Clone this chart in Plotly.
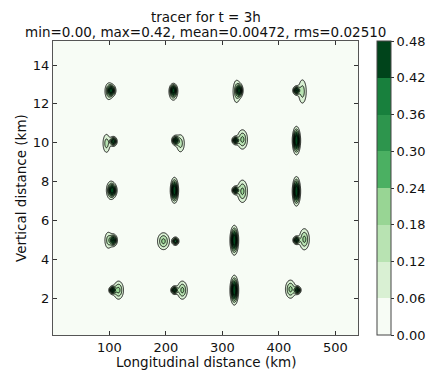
import numpy as np
import plotly.graph_objects as go

# ---- data ----
# dark (concentrated) tracer cores: x (km), y (km), amplitude, sigma_x (km), sigma_y (km)
core_x = [103.5, 213.3, 330.0, 431.0,
          107.0, 216.8, 323.0, 431.0,
          105.3, 215.0, 323.0, 431.0,
          107.0, 216.8, 321.0, 431.0,
          105.3, 215.0, 321.0, 432.8]
core_y = [12.69, 12.72, 12.69, 12.69,
          10.07, 10.12, 10.12, 10.12,
          7.55, 7.55, 7.55, 7.50,
          4.98, 4.93, 4.98, 4.98,
          2.41, 2.41, 2.41, 2.41]
core_a = [0.42, 0.42, 0.42, 0.42,
          0.42, 0.42, 0.42, 0.42,
          0.42, 0.42, 0.42, 0.42,
          0.42, 0.42, 0.42, 0.42,
          0.42, 0.42, 0.42, 0.42]
core_sx = [4.0, 3.6, 3.3, 3.3,
           3.4, 3.4, 3.2, 3.3,
           4.0, 3.3, 3.2, 3.3,
           3.6, 3.2, 3.3, 3.2,
           3.3, 3.3, 3.3, 3.3]
core_sy = [0.16, 0.17, 0.18, 0.12,
           0.13, 0.13, 0.11, 0.30,
           0.18, 0.28, 0.11, 0.32,
           0.16, 0.11, 0.32, 0.11,
           0.11, 0.11, 0.32, 0.11]

# lighter halos around / beside the cores
halo_x = [98.5, 213.0, 325.0, 441.6,
          94.7, 225.7, 335.4, 431.0,
          102.0, 215.0, 335.4, 431.0,
          98.0, 195.6, 321.0, 445.0,
          116.0, 229.0, 321.0, 420.4]
halo_y = [12.64, 12.50, 12.64, 12.64,
          9.97, 9.97, 10.17, 10.10,
          7.55, 7.55, 7.50, 7.50,
          4.98, 4.93, 4.98, 5.03,
          2.41, 2.41, 2.41, 2.46]
halo_a = [0.15, 0.15, 0.15, 0.15,
          0.15, 0.15, 0.20, 0.15,
          0.15, 0.15, 0.20, 0.15,
          0.15, 0.20, 0.15, 0.20,
          0.20, 0.20, 0.15, 0.20]
halo_sx = [4.5, 4.5, 4.5, 5.0,
           4.5, 5.0, 5.8, 4.0,
           5.0, 4.0, 5.8, 4.0,
           4.5, 6.8, 4.5, 5.7,
           5.7, 5.7, 4.5, 5.7]
halo_sy = [0.30, 0.22, 0.42, 0.44,
           0.34, 0.32, 0.32, 0.45,
           0.32, 0.40, 0.37, 0.45,
           0.30, 0.28, 0.46, 0.35,
           0.30, 0.30, 0.46, 0.30]

levels = [0.00, 0.06, 0.12, 0.18, 0.24, 0.30, 0.36, 0.42, 0.48]
band_colors = ['#f7fcf5', '#d9f0d3', '#b8e3b2', '#98d594',
               '#4bb062', '#2d954d', '#18803d', '#00441b']
x_ticks = [100, 200, 300, 400, 500]
y_ticks = [2, 4, 6, 8, 10, 12, 14]
title_1 = "tracer for t = 3h"
title_2 = "min=0.00, max=0.42, mean=0.00472, rms=0.02510"

# ---- build the field from the blobs ----
xg = np.arange(0.0, 540.5, 1.0)
yg = np.arange(0.1, 15.26, 0.03)
X, Y = np.meshgrid(xg, yg)
Z = np.zeros_like(X)
for x0, y0, a, sx, sy in zip(core_x, core_y, core_a, core_sx, core_sy):
    Z += a * np.exp(-0.5 * (((X - x0) / sx) ** 2 + ((Y - y0) / sy) ** 2))
for x0, y0, a, sx, sy in zip(halo_x, halo_y, halo_a, halo_sx, halo_sy):
    Z += a * np.exp(-0.5 * (((X - x0) / sx) ** 2 + ((Y - y0) / sy) ** 2))
Z = np.round(Z, 4)

# stepped colorscale
cs = []
n = len(band_colors)
for i, c in enumerate(band_colors):
    cs.append([i / n, c])
    cs.append([(i + 1) / n, c])

step = levels[1] - levels[0]
fig = go.Figure()
fig.add_trace(go.Contour(
    x=xg, y=yg, z=Z,
    zmin=levels[0], zmax=levels[-1], autocontour=False,
    contours=dict(start=levels[0], end=levels[-1], size=step, coloring='fill', showlines=False),
    line=dict(width=0),
    colorscale=cs,
    hoverinfo='skip',
    colorbar=dict(
        x=(377 - 53) / 305, xanchor='left', y=0.5, yanchor='middle', len=1.0, lenmode='fraction',
        thickness=14, outlinewidth=1, outlinecolor='#444',
        tickvals=levels, ticktext=[f"{v:.2f}" for v in levels],
        ticks='outside', ticklen=3, tickcolor='#333',
        tickfont=dict(family='DejaVu Sans', size=13, color='#111'),
        xpad=0, ypad=0,
    ),
))
fig.add_trace(go.Contour(
    x=xg, y=yg, z=Z, showscale=False, autocontour=False,
    contours=dict(start=levels[1], end=levels[-2], size=step, coloring='lines'),
    colorscale=[[0, 'black'], [1, 'black']],
    line=dict(width=0.85, smoothing=1),
    hoverinfo='skip',
))

axis_common = dict(showline=True, linecolor='#555', linewidth=1, mirror='ticks',
                   ticks='inside', ticklen=4, tickcolor='#333', showgrid=False, zeroline=False,
                   tickfont=dict(family='DejaVu Sans', size=13, color='#111'))
fig.update_layout(
    width=426, height=371,
    margin=dict(l=53, r=68, t=41, b=36, autoexpand=False),
    paper_bgcolor='white', plot_bgcolor='#f7fcf5',
    font=dict(family='DejaVu Sans', size=13, color='#111'),
    xaxis=dict(range=[0, 540], tickvals=x_ticks, **axis_common),
    yaxis=dict(range=[0.1, 15.24], tickvals=y_ticks, **axis_common),
    showlegend=False,
    annotations=[
        dict(text=title_1, x=0.5, y=1 + 24 / 294, xref='paper', yref='paper',
             showarrow=False, xanchor='center', yanchor='middle', font=dict(size=13.5)),
        dict(text=title_2, x=0.5, y=1 + 9 / 294, xref='paper', yref='paper',
             showarrow=False, xanchor='center', yanchor='middle', font=dict(size=13.5)),
        dict(text="Longitudinal distance (km)", x=0.5, y=-27 / 294, xref='paper', yref='paper',
             showarrow=False, xanchor='center', yanchor='middle', font=dict(size=13.5)),
        dict(text="Vertical distance (km)", x=-32 / 305, y=0.5, xref='paper', yref='paper',
             showarrow=False, xanchor='center', yanchor='middle', textangle=-90, font=dict(size=13.5)),
    ],
)
fig.write_html("out.html")
